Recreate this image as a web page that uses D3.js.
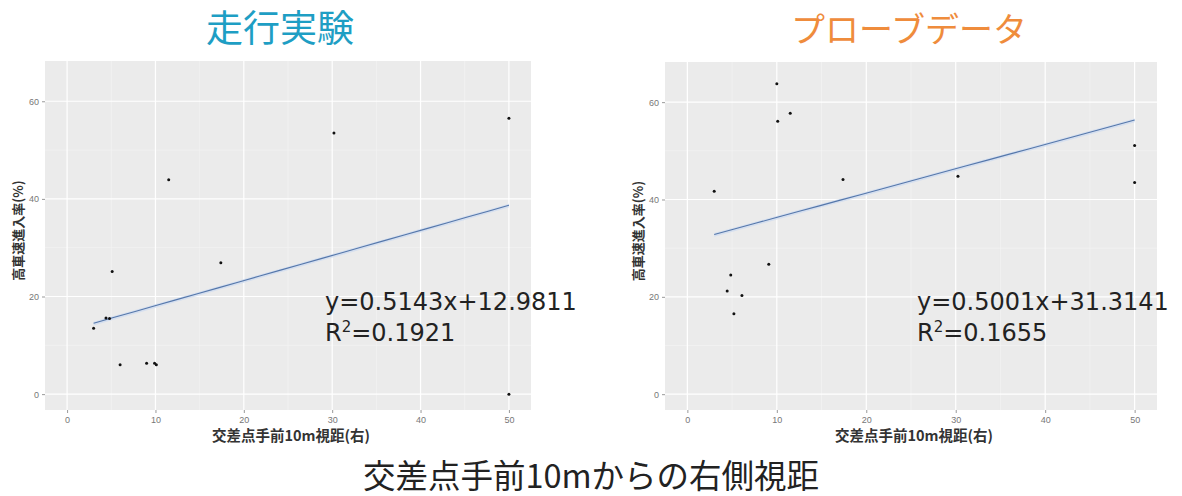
<!DOCTYPE html>
<html><head><meta charset="utf-8">
<script src="https://cdn.jsdelivr.net/npm/d3@7"></script>
<style>body{margin:0;background:#fff}svg{display:block}</style>
</head><body>
<svg id="c" width="1182" height="496"></svg>
<script>
// ---- data ----
const panelTitles = ["走行実験", "プローブデータ"];
const xTicks = [0, 10, 20, 30, 40, 50];
const yTicks = [0, 20, 40, 60];
const xLabel = "交差点手前10m視距(右)";
const yLabel = "高車速進入率(%)";
const bottomTitle = "交差点手前10mからの右側視距";

const runX = [3.0, 4.4, 4.8, 5.1, 6.0, 9.0, 9.9, 10.1, 11.5, 17.4, 30.2, 50, 50];
const runY = [13.5, 15.6, 15.5, 25.1, 6.0, 6.35, 6.35, 6.0, 43.9, 26.9, 53.5, 56.5, 0];
const probeX = [3.0, 10.0, 10.1, 11.5, 17.4, 9.1, 4.85, 4.45, 6.1, 5.2, 30.25, 50, 50];
const probeY = [41.7, 63.8, 56.1, 57.7, 44.1, 26.7, 24.5, 21.2, 20.3, 16.5, 44.8, 51.1, 43.5];
const slopes = [0.5143, 0.5001];
const intercepts = [12.9811, 31.3141];
const eqTexts = ["y=0.5143x+12.9811", "y=0.5001x+31.3141"];
const r2Values = ["0.1921", "0.1655"];

const svg = d3.select("#c");
const panels = [
  {x0: 45, x1: 531, y0: 61, y1: 410, xs: runX, ys: runY, title: panelTitles[0], color: "#1e9ec4",
   titleX: 280, titleSize: 37, eqX: 325, ylabX: 17},
  {x0: 665, x1: 1157, y0: 62, y1: 410, xs: probeX, ys: probeY, title: panelTitles[1], color: "#ef8c3c",
   titleX: 909, titleSize: 34, eqX: 917, ylabX: 637}
];

panels.forEach((p, i) => {
  const x = d3.scaleLinear().domain([-2.5, 52.5]).range([p.x0, p.x1]);
  const y = d3.scaleLinear().domain([-3.25, 68.25]).range([p.y1, p.y0]);
  const g = svg.append("g");
  g.append("rect").attr("x", p.x0).attr("y", p.y0).attr("width", p.x1 - p.x0).attr("height", p.y1 - p.y0).attr("fill", "#ebebeb");
  // minor grid
  [5, 15, 25, 35, 45].forEach(v => g.append("line").attr("x1", x(v)).attr("x2", x(v)).attr("y1", p.y0).attr("y2", p.y1).attr("stroke", "#f5f5f5").attr("stroke-width", 0.6));
  [10, 30, 50].forEach(v => g.append("line").attr("y1", y(v)).attr("y2", y(v)).attr("x1", p.x0).attr("x2", p.x1).attr("stroke", "#f5f5f5").attr("stroke-width", 0.6));
  // major grid
  xTicks.forEach(v => g.append("line").attr("x1", x(v)).attr("x2", x(v)).attr("y1", p.y0).attr("y2", p.y1).attr("stroke", "#fff").attr("stroke-width", 1.2));
  yTicks.forEach(v => g.append("line").attr("y1", y(v)).attr("y2", y(v)).attr("x1", p.x0).attr("x2", p.x1).attr("stroke", "#fff").attr("stroke-width", 1.2));
  // axes
  const xa = g.append("g").attr("transform", `translate(0,${p.y1})`)
    .call(d3.axisBottom(x).tickValues(xTicks).tickSize(3).tickPadding(4));
  const ya = g.append("g").attr("transform", `translate(${p.x0},0)`)
    .call(d3.axisLeft(y).tickValues(yTicks).tickSize(3).tickPadding(3));
  [xa, ya].forEach(a => {
    a.select(".domain").remove();
    a.selectAll("line").attr("stroke", "#999");
    a.selectAll("text").attr("fill", "#777").attr("font-size", 9).attr("font-family", "Liberation Sans, Arial, sans-serif");
  });
  // regression band + line
  const xmin = d3.min(p.xs), xmax = d3.max(p.xs);
  const lineData = d3.range(0, 21).map(k => xmin + (xmax - xmin) * k / 20);
  const f = v => slopes[i] * v + intercepts[i];
  g.append("path").datum(lineData)
    .attr("d", d3.area().x(v => x(v)).y0(v => y(f(v)) + 2.2).y1(v => y(f(v)) - 1.5))
    .attr("fill", "#d3def0").attr("opacity", 0.9);
  g.append("path").datum(lineData)
    .attr("d", d3.line().x(v => x(v)).y(v => y(f(v))))
    .attr("fill", "none").attr("stroke", "#5577aa").attr("stroke-width", 1.1);
  // points
  g.selectAll("circle.pt").data(p.xs.map((v, k) => [v, p.ys[k]])).enter().append("circle")
    .attr("cx", d => x(d[0])).attr("cy", d => y(d[1])).attr("r", 1.5).attr("fill", "#111");
  // labels
  svg.append("text").attr("x", (p.x0 + p.x1) / 2 + 3).attr("y", 441).attr("text-anchor", "middle")
    .attr("font-size", 14.5).attr("font-weight", "bold").attr("fill", "#333")
    .attr("font-family", "Noto Sans CJK JP, sans-serif").text(xLabel);
  svg.append("text").attr("transform", `translate(${p.ylabX},${(p.y0 + p.y1) / 2 - 5}) rotate(-90)`)
    .attr("text-anchor", "middle").attr("dominant-baseline", "central")
    .attr("font-size", 13).attr("font-weight", "bold").attr("fill", "#333")
    .attr("font-family", "Noto Sans CJK JP, sans-serif").text(yLabel);
  // title
  svg.append("text").attr("x", p.titleX).attr("y", 42).attr("text-anchor", "middle")
    .attr("font-size", p.titleSize).attr("fill", p.color)
    .attr("font-family", "Noto Sans CJK JP, sans-serif").text(p.title);
  // equation
  const eq = svg.append("text").attr("font-family", "DejaVu Sans, Verdana, sans-serif").attr("font-size", 24).attr("fill", "#222");
  eq.append("tspan").attr("x", p.eqX).attr("y", 310).text(eqTexts[i]);
  const t2 = eq.append("tspan").attr("x", p.eqX).attr("y", 341);
  t2.text("R");
  eq.append("tspan").attr("dy", -9).attr("font-size", 15).text("2");
  eq.append("tspan").attr("dy", 9).text("=" + r2Values[i]);
});

svg.append("text").attr("x", 591).attr("y", 488).attr("text-anchor", "middle")
  .attr("font-size", 32.5).attr("fill", "#222")
  .attr("font-family", "Noto Sans CJK JP, sans-serif").text(bottomTitle);
</script>
</body></html>
